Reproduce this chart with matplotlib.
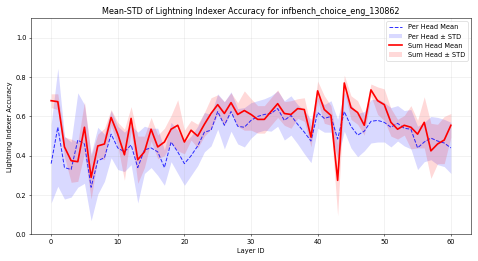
import numpy as np
import matplotlib
matplotlib.use("Agg")
import matplotlib.pyplot as plt

# layer ids 0..60
layers = list(range(61))

per_head_mean = [0.36, 0.545, 0.34, 0.33, 0.48, 0.46, 0.24, 0.375, 0.39, 0.51,
                 0.44, 0.42, 0.455, 0.34, 0.43, 0.44, 0.42, 0.34, 0.47, 0.42,
                 0.36, 0.40, 0.45, 0.52, 0.53, 0.625, 0.555, 0.625, 0.55, 0.545,
                 0.58, 0.60, 0.61, 0.615, 0.64, 0.58, 0.605, 0.56, 0.52, 0.475,
                 0.62, 0.59, 0.60, 0.485, 0.625, 0.55, 0.505, 0.525, 0.575, 0.58,
                 0.57, 0.545, 0.565, 0.54, 0.535, 0.44, 0.47, 0.49, 0.475, 0.465,
                 0.44]
per_head_std = [0.20, 0.30, 0.16, 0.14, 0.24, 0.20, 0.17, 0.17, 0.12, 0.12,
                0.11, 0.10, 0.10, 0.18, 0.12, 0.10, 0.12, 0.09, 0.10, 0.11,
                0.11, 0.10, 0.10, 0.10, 0.08, 0.09, 0.12, 0.10, 0.09, 0.10,
                0.09, 0.08, 0.08, 0.09, 0.09, 0.10, 0.10, 0.10, 0.11, 0.11,
                0.08, 0.07, 0.08, 0.10, 0.10, 0.11, 0.11, 0.10, 0.11, 0.11,
                0.10, 0.10, 0.09, 0.09, 0.10, 0.11, 0.10, 0.11, 0.12, 0.12,
                0.13]

sum_head_mean = [0.68, 0.675, 0.445, 0.375, 0.37, 0.545, 0.29, 0.45, 0.46, 0.595,
                 0.51, 0.405, 0.59, 0.38, 0.42, 0.535, 0.445, 0.47, 0.535, 0.555,
                 0.47, 0.53, 0.50, 0.56, 0.615, 0.66, 0.615, 0.67, 0.61, 0.63,
                 0.61, 0.585, 0.585, 0.625, 0.665, 0.615, 0.61, 0.64, 0.635, 0.495,
                 0.73, 0.635, 0.605, 0.275, 0.77, 0.645, 0.62, 0.555, 0.735, 0.68,
                 0.66, 0.57, 0.535, 0.555, 0.545, 0.51, 0.57, 0.425, 0.46, 0.48,
                 0.555]
sum_head_std = [0.035, 0.04, 0.05, 0.11, 0.10, 0.13, 0.11, 0.06, 0.08, 0.04,
                0.06, 0.13, 0.06, 0.12, 0.08, 0.06, 0.06, 0.07, 0.07, 0.13,
                0.06, 0.05, 0.06, 0.06, 0.08, 0.05, 0.06, 0.05, 0.06, 0.10,
                0.08, 0.07, 0.07, 0.07, 0.07, 0.06, 0.07, 0.05, 0.06, 0.05,
                0.05, 0.07, 0.05, 0.18, 0.04, 0.06, 0.06, 0.05, 0.03, 0.07,
                0.08, 0.07, 0.05, 0.05, 0.11, 0.07, 0.13, 0.14, 0.10, 0.12,
                0.06]

x = np.array(layers)
ph_m = np.array(per_head_mean)
ph_s = np.array(per_head_std)
sh_m = np.array(sum_head_mean)
sh_s = np.array(sum_head_std)

fig, ax = plt.subplots(figsize=(9.96, 5.44), dpi=48)

ax.plot(x, ph_m, 'b--', linewidth=1.5, alpha=0.8, label='Per Head Mean')
ax.fill_between(x, ph_m - ph_s, ph_m + ph_s, color='blue', alpha=0.15, linewidth=0,
                label='Per Head ± STD')
ax.plot(x, sh_m, 'r-', linewidth=2.5, label='Sum Head Mean')
ax.fill_between(x, sh_m - sh_s, sh_m + sh_s, color='red', alpha=0.15, linewidth=0,
                label='Sum Head ± STD')

ax.set_title('Mean-STD of Lightning Indexer Accuracy for infbench_choice_eng_130862', fontsize=12)
ax.set_xlabel('Layer ID', fontsize=10)
ax.set_ylabel('Lightning Indexer Accuracy', fontsize=10)
ax.set_ylim(0, 1.1)
ax.grid(True, alpha=0.3)
ax.legend(loc='upper right', fontsize=10)

plt.tight_layout()
plt.savefig('out.png', dpi=48)
